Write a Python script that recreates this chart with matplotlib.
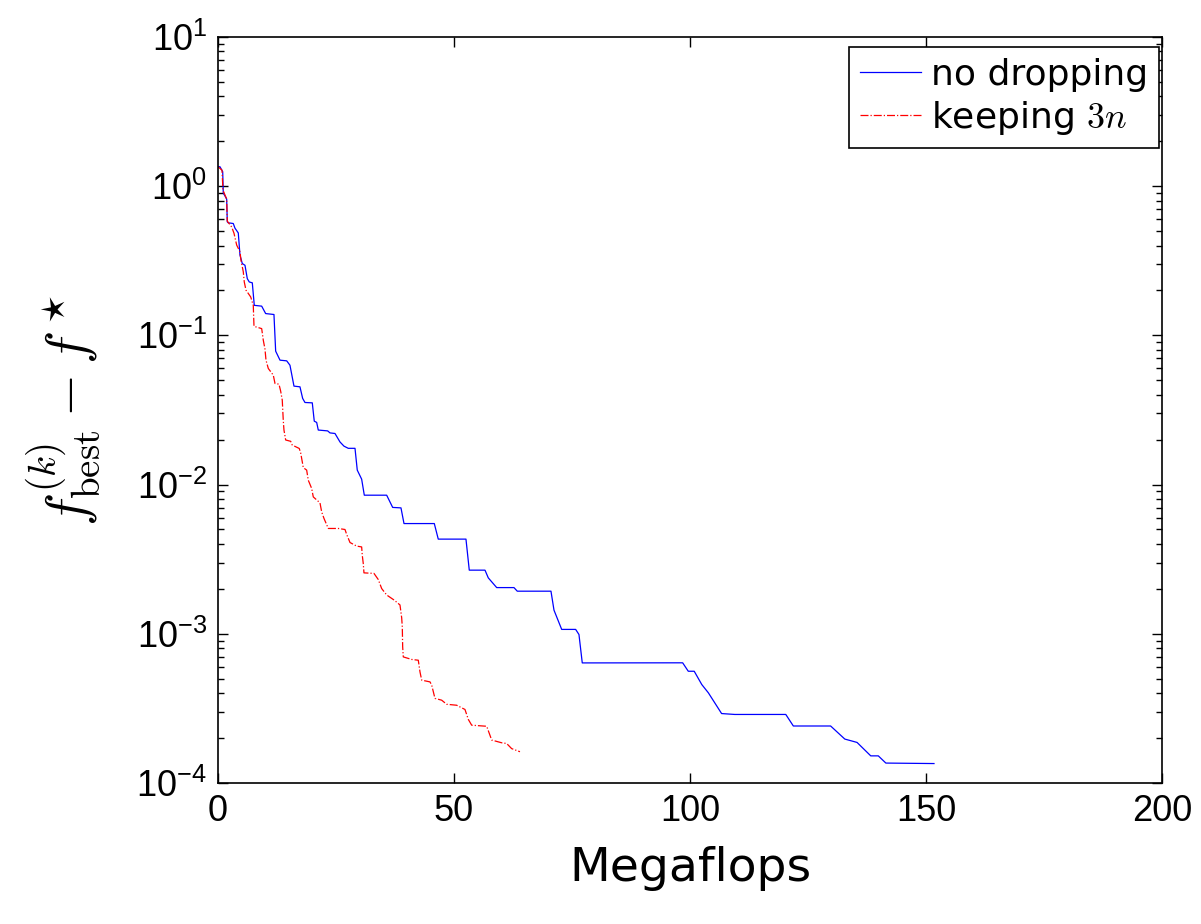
import math
import matplotlib
matplotlib.use("Agg")
import matplotlib.pyplot as plt
from matplotlib.ticker import FixedLocator, LogLocator, NullFormatter, FuncFormatter

plt.rcParams['font.family'] = ['Liberation Sans', 'DejaVu Sans']
plt.rcParams['mathtext.fontset'] = 'custom'
plt.rcParams['mathtext.rm'] = 'Liberation Sans'
plt.rcParams['mathtext.it'] = 'Liberation Sans:italic'
plt.rcParams['mathtext.bf'] = 'Liberation Sans:bold'

# no dropping (Megaflops, f_best - f*)
mflops_full = [0.0, 0.42, 1.0, 1.12, 1.84, 1.97, 2.18, 3.24, 3.6, 4.3, 4.66, 5.15, 5.72,
               6.21, 6.63, 7.27, 7.69, 9.26, 10.1, 11.86, 12.22, 13.14, 14.56, 15.25,
               16.1, 17.37, 17.94, 18.43, 19.98, 20.4, 20.91, 21.25, 23.24, 23.73, 24.79,
               25.85, 26.69, 27.6, 29.03, 29.51, 30.44, 31.0, 35.74, 37.01, 38.77, 39.41,
               45.83, 46.67, 52.54, 53.24, 56.57, 57.27, 59.05, 62.71, 63.41, 70.55,
               71.19, 72.82, 75.78, 76.48, 77.18, 98.45, 99.64, 100.9, 102.5, 103.9,
               106.7, 109.5, 120.3, 121.9, 129.8, 132.8, 135.4, 138.3, 139.9, 141.5, 151.7]
gap_full = [1.35, 1.35, 1.25, 0.90, 0.82, 0.577, 0.568, 0.562, 0.523, 0.486, 0.345, 0.303,
            0.295, 0.240, 0.228, 0.225, 0.159, 0.157, 0.140, 0.138, 0.0784, 0.0682, 0.0675,
            0.0631, 0.0457, 0.0452, 0.0378, 0.0355, 0.0353, 0.0266, 0.0261, 0.0232, 0.0229,
            0.0222, 0.0220, 0.0193, 0.0181, 0.0175, 0.0175, 0.0125, 0.01087, 0.00849,
            0.00849, 0.00703, 0.00698, 0.00548, 0.00548, 0.00431, 0.00431, 0.00267,
            0.00267, 0.00237, 0.00204, 0.00204, 0.00193, 0.00193, 0.00144, 0.00107,
            0.00107, 0.000989, 0.000638, 0.000639, 0.000561, 0.000561, 0.000457,
            0.000402, 0.000292, 0.000288, 0.000288, 0.000241, 0.000241, 0.000197,
            0.000187, 0.000152, 0.000152, 0.000136, 0.000135]

# keeping 3n
mflops_keep = [0.0, 0.85, 1.06, 1.84, 1.97, 2.90, 3.39, 3.96, 4.66, 4.87, 5.36, 5.57, 5.93,
               6.93, 7.48, 7.56, 7.63, 9.26, 9.60, 9.96, 10.17, 10.66, 11.72, 12.08, 12.92,
               13.28, 13.62, 13.83, 13.98, 14.34, 15.40, 15.74, 17.22, 17.52, 17.86, 18.07,
               18.79, 19.13, 19.85, 20.19, 21.61, 21.97, 22.46, 23.37, 25.49, 26.91, 27.27,
               27.97, 29.39, 30.44, 30.57, 30.78, 30.93, 33.05, 33.96, 34.68, 35.74, 37.35,
               38.56, 38.92, 39.05, 39.13, 39.26, 41.04, 42.44, 42.80, 43.16, 44.92, 45.28,
               45.97, 47.39, 48.45, 50.57, 52.33, 53.03, 53.75, 56.93, 57.48, 57.99, 60.11,
               61.16, 62.22, 63.98]
gap_keep = [1.35, 1.28, 0.94, 0.82, 0.583, 0.533, 0.484, 0.403, 0.363, 0.319, 0.267, 0.228,
            0.201, 0.181, 0.159, 0.133, 0.115, 0.111, 0.0928, 0.0808, 0.0682, 0.060,
            0.0541, 0.0476, 0.0471, 0.0423, 0.0368, 0.0270, 0.0232, 0.0199, 0.0195,
            0.0184, 0.01746, 0.0163, 0.0142, 0.0130, 0.0125, 0.0107, 0.00942, 0.00827,
            0.00754, 0.00656, 0.00593, 0.00508, 0.00508, 0.00500, 0.00463, 0.00409,
            0.00387, 0.00382, 0.00336, 0.00296, 0.00256, 0.00254, 0.00231, 0.00201,
            0.00182, 0.00168, 0.00156, 0.00128, 0.00111, 0.000817, 0.000700, 0.000673,
            0.000665, 0.000555, 0.000489, 0.000476, 0.000453, 0.000369, 0.000359,
            0.000337, 0.000332, 0.000311, 0.000267, 0.000244, 0.000240, 0.000215,
            0.000194, 0.000186, 0.000184, 0.000170, 0.000162]

x_ticks = [0, 50, 100, 150, 200]
y_decades = [1e-4, 1e-3, 1e-2, 1e-1, 1e0, 1e1]

fig = plt.figure(figsize=(12.01, 9.24), dpi=100)
ax = fig.add_axes([0.1815, 0.1526, 0.786, 0.8074])

ax.semilogy(mflops_full, gap_full, color='blue', lw=0.9, ls='-', label='no dropping')
ax.semilogy(mflops_keep, gap_keep, color='red', lw=0.9, ls='-.', label='keeping $3n$')

ax.set_xlim(0, 200)
ax.set_ylim(1e-4, 1e1)
ax.xaxis.set_major_locator(FixedLocator(x_ticks))
ax.yaxis.set_major_locator(FixedLocator(y_decades))
ax.yaxis.set_minor_locator(LogLocator(base=10, subs=range(2, 10), numticks=20))
ax.yaxis.set_minor_formatter(NullFormatter())
ax.yaxis.set_major_formatter(FuncFormatter(
    lambda v, p: r'$\mathdefault{10^{%d}}$' % round(math.log10(v))))

ax.tick_params(which='both', direction='in', top=True, right=True, labelsize=26, width=1)
ax.tick_params(which='major', length=7, pad=8)
ax.tick_params(which='minor', length=4)
for s in ax.spines.values():
    s.set_linewidth(1.2)

ax.set_xlabel('Megaflops', fontsize=34, family='DejaVu Sans', labelpad=12)
yl = ax.set_ylabel(r'$f_{\rm best}^{(k)} - f^\star$', fontsize=40, labelpad=24)
yl.set_math_fontfamily('cm')

leg = ax.legend(loc='upper right', bbox_to_anchor=(0.997, 0.9866),
                prop={'family': 'DejaVu Sans', 'size': 26},
                fancybox=False, framealpha=1, edgecolor='black', borderaxespad=0,
                handlelength=1.7, handletextpad=0.28, borderpad=0.3, labelspacing=0.2)
leg.get_frame().set_linewidth(1.2)
for t in leg.get_texts():
    t.set_math_fontfamily('cm')

fig.savefig('out.png', dpi=100)
